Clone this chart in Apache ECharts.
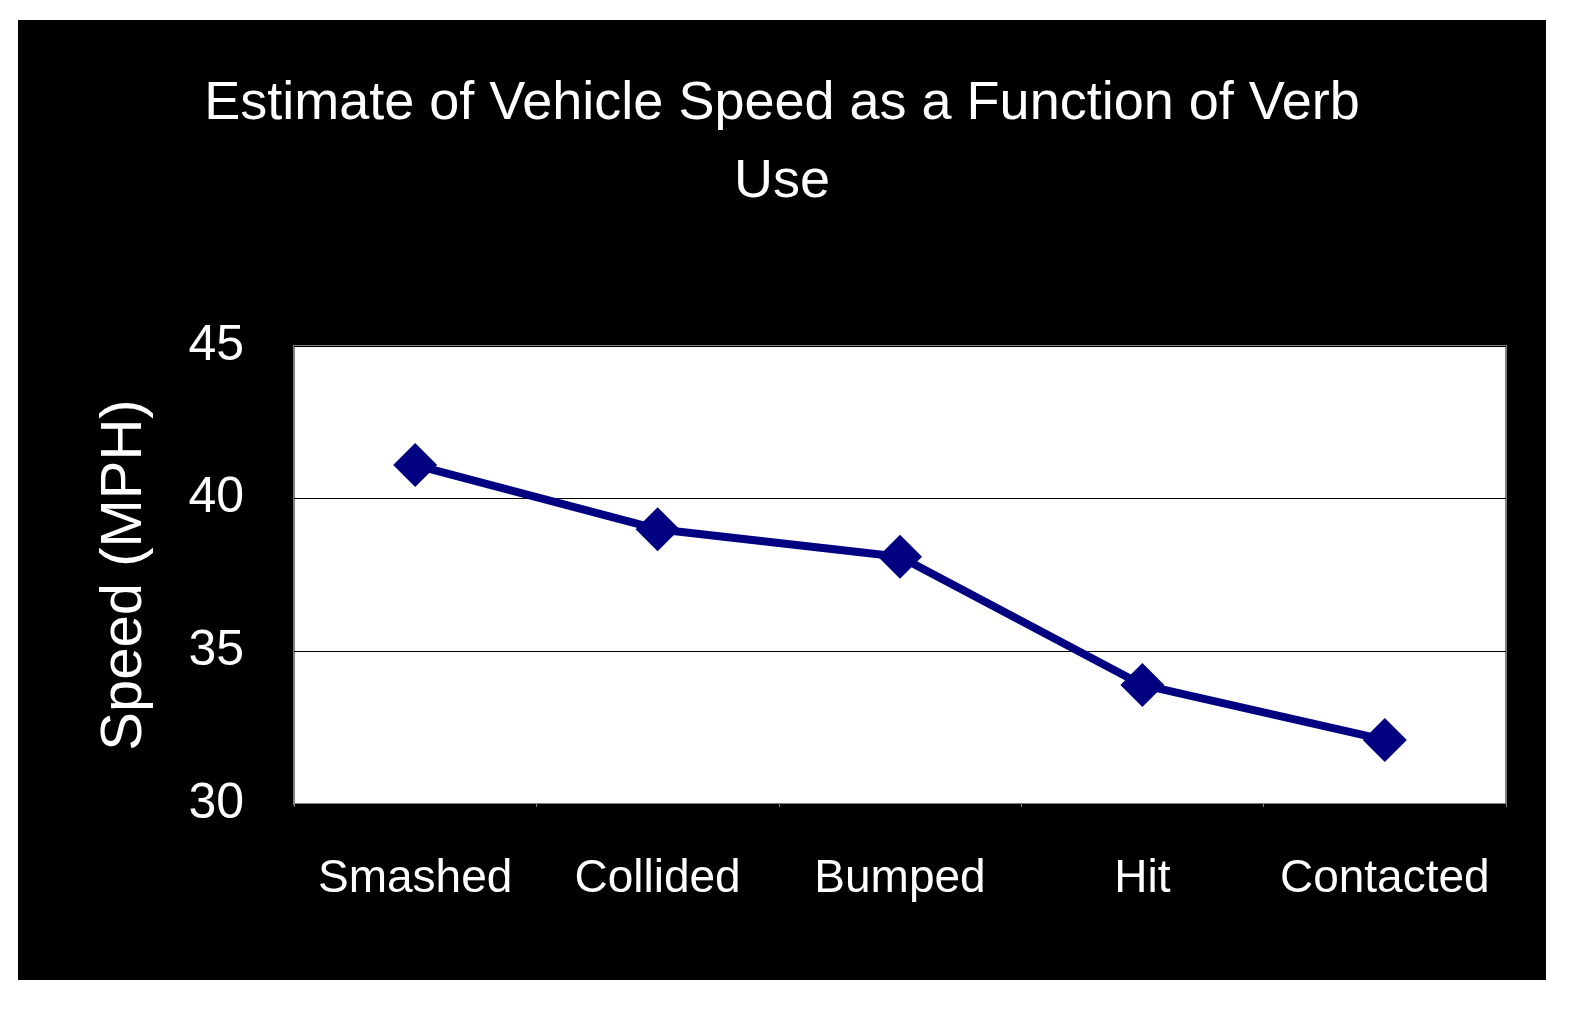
<!DOCTYPE html>
<html>
<head>
<meta charset="utf-8">
<script src="https://cdn.jsdelivr.net/npm/echarts@6/dist/echarts.min.js"></script>
<style>
html, body { margin: 0; padding: 0; background: #ffffff; }
#DataChart { position: absolute; left: 18px; top: 20px; width: 1528px; height: 960px; }
</style>
</head>
<body>
<div id="DataChart"></div>
<script>
var verbs = ['Smashed', 'Collided', 'Bumped', 'Hit', 'Contacted'];
var speeds = [41.1, 39.0, 38.1, 33.9, 32.1];
var font = '"Liberation Sans Narrow", "Liberation Sans", Arial, sans-serif';

var myChart = echarts.init(document.getElementById('DataChart'));

var option = {
    backgroundColor: '#000000',
    animation: false,
    title: {
        text: 'Estimate of Vehicle Speed as a Function of Verb\nUse',
        left: 'center',
        top: 40,
        textStyle: { fontFamily: font, fontWeight: 'normal', fontSize: 54, color: '#ffffff', lineHeight: 78 }
    },
    grid: {
        left: 276, top: 326, width: 1212, height: 458,
        show: true, backgroundColor: '#ffffff', borderColor: '#808080', borderWidth: 2
    },
    xAxis: {
        type: 'category',
        data: verbs,
        boundaryGap: true,
        axisLine: { show: false },
        axisTick: { show: true, length: 3, lineStyle: { color: '#808080' } },
        axisLabel: { interval: 0, color: '#ffffff', fontFamily: font, fontSize: 46, margin: 52 }
    },
    yAxis: {
        type: 'value',
        min: 30, max: 45, interval: 5,
        name: 'Speed (MPH)',
        nameLocation: 'middle',
        nameGap: 140,
        nameTextStyle: { color: '#ffffff', fontFamily: font, fontSize: 58 },
        axisLine: { show: false },
        axisTick: { show: false },
        axisLabel: { color: '#ffffff', fontFamily: font, fontSize: 50, margin: 50 },
        splitLine: { lineStyle: { color: '#000000', width: 1 } }
    },
    series: [{
        type: 'line',
        data: speeds,
        symbol: 'diamond',
        symbolSize: 44,
        lineStyle: { color: '#000080', width: 8 },
        itemStyle: { color: '#000080' }
    }]
};

myChart.setOption(option);
</script>
</body>
</html>
